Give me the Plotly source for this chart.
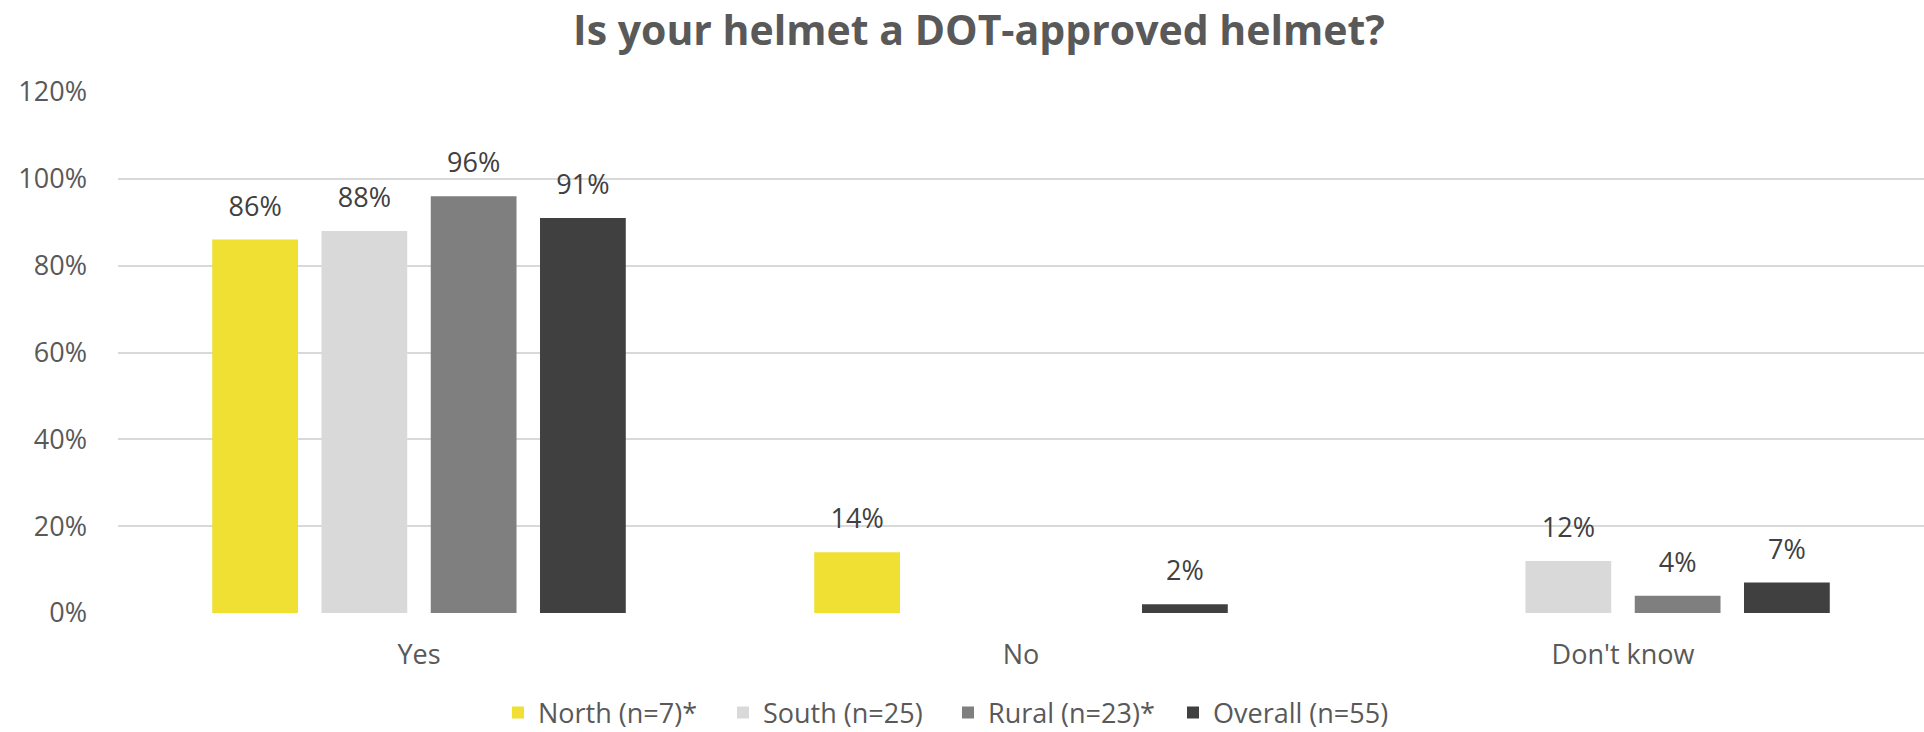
import plotly.graph_objects as go

# Survey answers and regional shares (fractions)
categories = ["Yes", "No", "Don't know"]
series_names = ["North (n=7)*", "South (n=25)", "Rural (n=23)*", "Overall (n=55)"]
north = [0.86, 0.14, None]
south = [0.88, None, 0.12]
rural = [0.96, None, 0.04]
overall = [0.91, 0.02, 0.07]
y_ticks = [0, 0.2, 0.4, 0.6, 0.8, 1.0, 1.2]
y_tick_labels = ["0%", "20%", "40%", "60%", "80%", "100%", "120%"]

colors = ["#F0E033", "#D9D9D9", "#7F7F7F", "#404040"]
FONT = "Open Sans"

fig = go.Figure()
all_series = [north, south, rural, overall]

for name, vals, col in zip(series_names, all_series, colors):
    fig.add_trace(go.Bar(
        x=categories, y=vals, name=name, offsetgroup=name,
        marker=dict(color=col, line=dict(width=0)),
        hoverinfo="skip",
    ))

# value labels, grouped so they sit above their bars
for name, vals, col in zip(series_names, all_series, colors):
    fig.add_trace(go.Scatter(
        x=categories, y=vals, offsetgroup=name, showlegend=False,
        mode="markers+text",
        marker=dict(size=26, color="rgba(0,0,0,0)"),
        text=[None if v is None else f"{round(v * 100)}%" for v in vals],
        textposition="top center",
        textfont=dict(family=FONT, size=27, color="#404040"),
        hoverinfo="skip", cliponaxis=False,
    ))

fig.update_layout(
    width=1924, height=732,
    paper_bgcolor="white", plot_bgcolor="white",
    margin=dict(l=118, r=0, t=92, b=119),
    barmode="group", bargap=0.274, bargroupgap=0.215,
    scattermode="group", scattergap=0.274,
    title=dict(
        text="<b>Is your helmet a DOT-approved helmet?</b>",
        x=979 / 1924, xanchor="center", xref="container",
        y=1 - 31 / 732, yanchor="middle", yref="container",
        font=dict(family=FONT, size=41, color="#595959"),
    ),
    legend=dict(
        orientation="h", x=948 / 1924, xanchor="center", xref="container",
        y=1 - 713 / 732, yanchor="middle", yref="container",
        font=dict(family=FONT, size=27, color="#595959"),
        entrywidth=180, entrywidthmode="pixels",
        itemclick=False, itemdoubleclick=False,
    ),
    showlegend=True,
)

fig.update_xaxes(
    showgrid=False, showline=False, zeroline=False, ticks="",
    tickfont=dict(family=FONT, size=27, color="#595959"),
    ticklabelstandoff=23,
)
fig.update_yaxes(
    range=[0, 1.2], tickvals=y_ticks, ticktext=y_tick_labels,
    showgrid=True, gridcolor="#D9D9D9", gridwidth=1.5,
    zeroline=False, showline=False, ticks="",
    tickfont=dict(family=FONT, size=27, color="#595959"),
    ticklabelstandoff=30,
)

fig.write_html("out.html")
